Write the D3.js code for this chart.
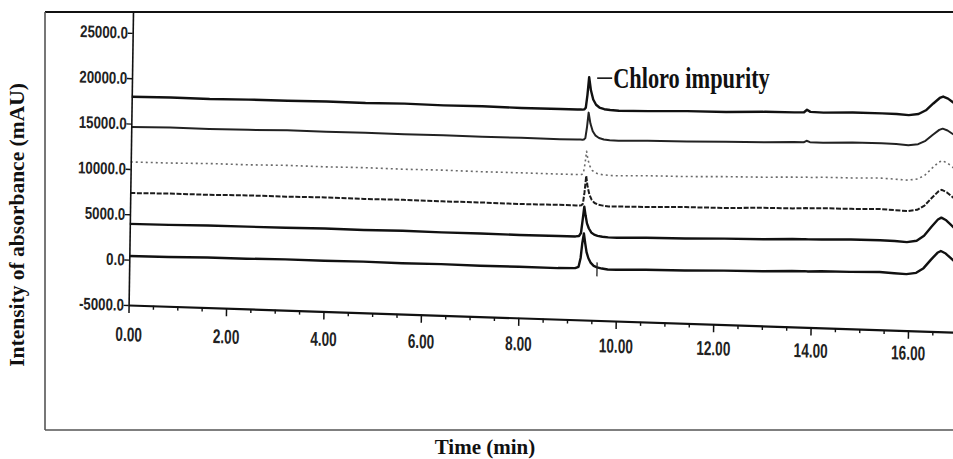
<!DOCTYPE html>
<html><head><meta charset="utf-8">
<script src="https://cdn.jsdelivr.net/npm/d3@7"></script>
<style>
html,body{margin:0;padding:0;background:#fff;}
svg{display:block;}
</style></head><body>
<svg id="chart" width="953" height="459"></svg>
<script>
// Retention times (min) shared by all six overlaid runs
const times = [0, 0.8, 1.6, 2.4, 3.2, 4.0, 4.8, 5.6, 6.4, 7.2, 8.0, 8.8,
  9.15, 9.22, 9.26, 9.29, 9.32, 9.35, 9.38, 9.42, 9.47, 9.53, 9.6, 9.7, 9.82, 10.0,
  10.6, 11.4, 12.2, 13.0, 13.6, 13.8, 13.86, 13.93, 14.2, 14.8, 15.4, 15.7, 15.95,
  16.15, 16.3, 16.45, 16.58, 16.65, 16.75, 16.85, 16.93];

// Absorbance (mAU) of each run, stacked with an offset
const run1 = [17950, 18020, 17990, 18070, 18080, 18150, 18120, 18190, 18140, 18180, 18140, 18170,
  18170, 18180, 18180, 18210, 18400, 19800, 21780, 20340, 19330, 18760, 18470, 18300, 18230, 18190,
  18250, 18390, 18440, 18600, 18640, 18700, 18980, 18760, 18720, 18840, 18850, 18840, 18760,
  18915, 19355, 20132, 20762, 20930, 20720, 20342, 20048];
const run2 = [14630, 14700, 14690, 14740, 14820, 14800, 14850, 14820, 14860, 14830, 14850, 14840,
  14870, 14870, 14870, 14900, 15050, 16220, 17870, 16670, 15830, 15355, 15115, 14970, 14910, 14880,
  14990, 15040, 15170, 15250, 15370, 15380, 15560, 15420, 15410, 15530, 15550, 15530, 15450,
  15594, 15988, 16679, 17240, 17390, 17203, 16866, 16605];
const run3 = [10770, 10790, 10880, 10880, 10960, 10940, 10990, 10960, 11000, 10970, 10990, 10990,
  11010, 11010, 11036, 11166, 12180, 13610, 12700, 11998, 11530, 11275, 11145, 11072, 11020, 11020,
  11130, 11180, 11310, 11390, 11510, 11520, 11560, 11520, 11600, 11630, 11720, 11650, 11590,
  11750, 12210, 13024, 13684, 13860, 13640, 13244, 12936];
const run4 = [7340, 7430, 7430, 7510, 7510, 7570, 7540, 7590, 7560, 7580, 7550, 7600,
  7600, 7600, 7633, 7798, 9085, 10900, 9745, 8854, 8260, 7935, 7770, 7676, 7610, 7630,
  7680, 7810, 7860, 8020, 8060, 8120, 8150, 8120, 8190, 8220, 8310, 8240, 8180,
  8350, 8850, 9738, 10458, 10650, 10410, 9978, 9642];
const run5 = [3940, 3970, 4050, 4060, 4090, 4150, 4120, 4170, 4140, 4160, 4140, 4170,
  4180, 4246, 4576, 5995, 7480, 6490, 5665, 5104, 4675, 4449, 4317, 4240, 4190, 4190,
  4300, 4350, 4480, 4560, 4680, 4690, 4720, 4700, 4730, 4840, 4860, 4840, 4760,
  4948, 5518, 6535, 7360, 7580, 7305, 6810, 6425];
const run6 = [410, 440, 520, 530, 600, 580, 630, 600, 640, 610, 630, 630,
  690, 845, 1820, 3458, 4550, 3458, 2483, 1820, 1313, 1006, 850, 738, 660, 660,
  770, 820, 950, 1030, 1150, 1160, 1190, 1160, 1240, 1270, 1360, 1290, 1230,
  1410, 1950, 2912, 3692, 3900, 3640, 3172, 2808];

const yTickValues = [-5000, 0, 5000, 10000, 15000, 20000, 25000];
const xTickValues = [0, 2, 4, 6, 8, 10, 12, 14, 16];
const xMinorValues = [0.5, 1, 1.5, 2.5, 3, 3.5, 4.5, 5, 5.5, 6.5, 7, 7.5, 8.5, 9, 9.5,
  10.5, 11, 11.5, 12.5, 13, 13.5, 14.5, 15, 15.5, 16.5];
const peakName = "Chloro impurity";
const peakRun = 0;          // run carrying the annotation
const peakTime = 9.38;      // apex of the annotated peak
const integrationMarkTimes = [9.6]; // end-of-peak mark on the bottom run

const runs = [run1, run2, run3, run4, run5, run6];
const runStyles = [
  {stroke: "#111", width: 2.4, dash: null},
  {stroke: "#222", width: 2.0, dash: null},
  {stroke: "#6a6a6a", width: 1.6, dash: "2,3"},
  {stroke: "#1c1c1c", width: 2.0, dash: "5,1.6"},
  {stroke: "#111", width: 2.4, dash: null},
  {stroke: "#111", width: 2.4, dash: null}
];

const svg = d3.select("#chart");

// outer frame
const frame = svg.append("g");
frame.append("line").attr("x1", 45).attr("x2", 953).attr("y1", 12).attr("y2", 12)
  .attr("stroke", "#111").attr("stroke-width", 2);
frame.append("line").attr("x1", 45).attr("x2", 45).attr("y1", 12).attr("y2", 430)
  .attr("stroke", "#555").attr("stroke-width", 1.6);
frame.append("line").attr("x1", 45).attr("x2", 953).attr("y1", 430).attr("y2", 430)
  .attr("stroke", "#555").attr("stroke-width", 1.6);

// plot area: the printed trace is slightly sheared
const shX = 0.033, shY = -0.015, ox = 133, oy = 12;
const plot = svg.append("g")
  .attr("transform", `matrix(1,${shX},${shY},1,${ox},${oy})`);

const plotH = 293;
const x = d3.scaleLinear().domain([0, 16.93]).range([0, 824.7]);
const y = d3.scaleLinear().domain([-5000, 27300]).range([plotH, 0]);

// runs
const line = d3.line().x((d, i) => x(times[i])).y(d => y(d));
runs.forEach((r, i) => {
  const s = runStyles[i];
  plot.append("path").datum(r)
    .attr("d", line)
    .attr("fill", "none")
    .attr("stroke", s.stroke)
    .attr("stroke-width", s.width)
    .attr("stroke-linejoin", "round")
    .attr("stroke-dasharray", s.dash);
});

// integration mark on the bottom run
integrationMarkTimes.forEach(t => {
  const i = d3.bisectLeft(times, t);
  const v = run6[i];
  plot.append("line")
    .attr("x1", x(t)).attr("x2", x(t))
    .attr("y1", y(v) - 5).attr("y2", y(v) + 9)
    .attr("stroke", "#222").attr("stroke-width", 1.3);
});

// axes
const tickFont = "'Liberation Sans', Arial, sans-serif";
const yAxis = plot.append("g")
  .call(d3.axisLeft(y).tickValues(yTickValues).tickSize(5).tickSizeOuter(0).tickPadding(1)
    .tickFormat(d => d.toFixed(1)));
yAxis.select(".domain").attr("stroke-width", 1.6).attr("stroke", "#111");
yAxis.selectAll(".tick line").attr("stroke-width", 1.4).attr("stroke", "#111");
yAxis.selectAll(".tick text")
  .attr("font-family", tickFont)
  .attr("font-weight", "bold")
  .attr("font-size", 17)
  .attr("fill", "#222")
  .attr("transform", "scale(0.78,1)");

const xAxis = plot.append("g").attr("transform", `translate(0,${plotH})`)
  .call(d3.axisBottom(x).tickValues(xTickValues).tickSize(8).tickSizeOuter(0)
    .tickFormat(d => d.toFixed(2)));
xAxis.select(".domain").attr("stroke-width", 2.2).attr("stroke", "#111");
xAxis.selectAll(".tick line").attr("stroke-width", 1.5).attr("stroke", "#111");
xAxis.selectAll(".tick text")
  .attr("font-family", tickFont)
  .attr("font-weight", "bold")
  .attr("font-size", 20)
  .attr("fill", "#222")
  .attr("y", d => 22 - 0.44 * d)
  .attr("transform", "scale(0.68,1)");

const xMinor = plot.append("g").attr("transform", `translate(0,${plotH})`)
  .call(d3.axisBottom(x).tickValues(xMinorValues).tickSize(4).tickFormat(""));
xMinor.select(".domain").remove();
xMinor.selectAll(".tick line").attr("stroke-width", 1.4).attr("stroke", "#111");

// peak annotation, placed in page coordinates at the apex
const toPage = (lx, ly) => [ox + lx + shY * ly, oy + shX * lx + ly];
const apex = toPage(x(peakTime), y(runs[peakRun][times.indexOf(peakTime)]));
svg.append("line")
  .attr("x1", apex[0] + 8).attr("x2", apex[0] + 23)
  .attr("y1", apex[1] + 1).attr("y2", apex[1] + 1)
  .attr("stroke", "#111").attr("stroke-width", 1.6);
svg.append("text")
  .attr("transform", `translate(${apex[0] + 24},${apex[1] + 11}) scale(0.745,1)`)
  .attr("font-family", "'Liberation Serif', 'Times New Roman', serif")
  .attr("font-weight", "bold")
  .attr("font-size", 30)
  .attr("fill", "#111")
  .text(peakName);

// axis titles
svg.append("text")
  .attr("x", 485).attr("y", 454)
  .attr("text-anchor", "middle")
  .attr("font-family", "'Liberation Serif', 'Times New Roman', serif")
  .attr("font-weight", "bold")
  .attr("font-size", 21)
  .attr("fill", "#111")
  .text("Time (min)");

svg.append("text")
  .attr("transform", "translate(23.5,225) rotate(-90)")
  .attr("text-anchor", "middle")
  .attr("font-family", "'Liberation Serif', 'Times New Roman', serif")
  .attr("font-weight", "bold")
  .attr("font-size", 21.5)
  .attr("fill", "#111")
  .text("Intensity of absorbance (mAU)");
</script>
</body></html>
